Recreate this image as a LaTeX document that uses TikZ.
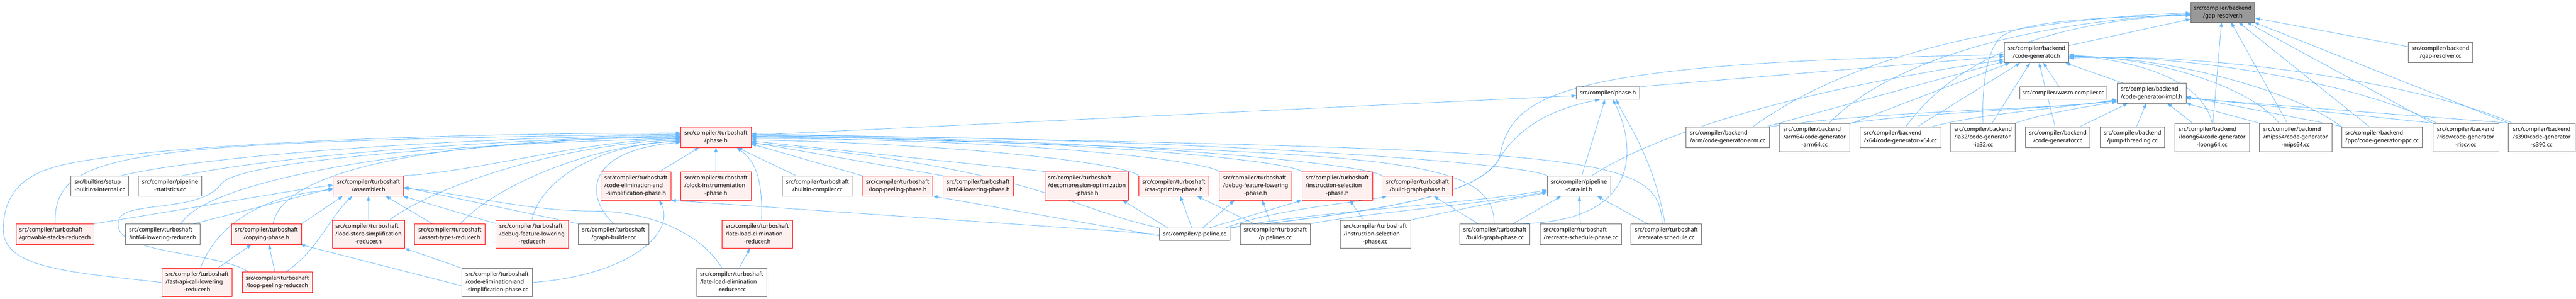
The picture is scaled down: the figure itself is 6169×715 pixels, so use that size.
\documentclass[tikz,border=0pt]{standalone}
\usepackage{fontspec}
\setmainfont{Noto Sans}
\usetikzlibrary{arrows.meta}
\definecolor{edgec}{HTML}{63B8FF}
\definecolor{redb}{HTML}{FF0000}
\definecolor{redf}{HTML}{FFF0F0}
\definecolor{grayb}{HTML}{666666}
\definecolor{mainf}{HTML}{999999}
\pgfdeclarelayer{bg}
\pgfsetlayers{bg,main}
\newcommand{\labtwo}[2]{\begin{tabular}{@{}l@{}}#1\\\multicolumn{1}{@{}c@{}}{#2}\end{tabular}}
\newcommand{\labthree}[3]{\begin{tabular}{@{}l@{}}#1\\#2\\\multicolumn{1}{@{}c@{}}{#3}\end{tabular}}
\newcommand{\mkbox}[7]{\node[#1, minimum width={(#4)-(#3)}, minimum height={(#6)-(#5)}] (#2) at ({((#3)+(#4))/2},{((#5)+(#6))/2}) {#7};}
\tikzset{
  nd/.style={rectangle, line width=1pt, inner sep=0pt, font=\fontsize{13.5}{18.5}\selectfont, text=black},
  wbox/.style={nd, draw=grayb, fill=white},
  rbox/.style={nd, draw=redb, fill=redf},
  mbox/.style={nd, draw=grayb, fill=mainf},
  lnk/.style={draw=edgec, line width=1pt, -{Triangle[length=11pt,width=8pt]}},
}
\begin{document}
\begin{tikzpicture}[x=1pt,y=-1pt]
\useasboundingbox (0,0) rectangle (6169,715);
% ---------------- backend nodes
\mkbox{mbox}{gap}{5246}{5400}{5}{53}{\labtwo{src/compiler/backend}{/gap-resolver.h}}
\mkbox{wbox}{cgh}{4800}{4954}{102}{150}{\labtwo{src/compiler/backend}{/code-generator.h}}
\mkbox{wbox}{grcc}{5767}{5922}{102}{150}{\labtwo{src/compiler/backend}{/gap-resolver.cc}}
\mkbox{wbox}{cphase}{3775}{3926}{208}{238}{src/compiler/phase.h}
\mkbox{wbox}{wasm}{4837}{5045}{208}{238}{src/compiler/wasm-compiler.cc}
\mkbox{wbox}{impl}{5070}{5235}{199}{247}{\labtwo{src/compiler/backend}{/code-generator-impl.h}}
\mkbox{wbox}{arm}{4038}{4237}{304}{353}{\labtwo{src/compiler/backend}{/arm/code-generator-arm.cc}}
\mkbox{wbox}{arm64}{4261}{4430}{295}{363}{\labthree{src/compiler/backend}{/arm64/code-generator}{-arm64.cc}}
\mkbox{wbox}{x64}{4454}{4648}{304}{353}{\labtwo{src/compiler/backend}{/x64/code-generator-x64.cc}}
\mkbox{wbox}{ia32}{4672}{4826}{295}{363}{\labthree{src/compiler/backend}{/ia32/code-generator}{-ia32.cc}}
\mkbox{wbox}{cgcc}{4851}{5005}{304}{353}{\labtwo{src/compiler/backend}{/code-generator.cc}}
\mkbox{wbox}{jump}{5029}{5184}{304}{353}{\labtwo{src/compiler/backend}{/jump-threading.cc}}
\mkbox{wbox}{loong}{5208}{5387}{295}{363}{\labthree{src/compiler/backend}{/loong64/code-generator}{-loong64.cc}}
\mkbox{wbox}{mips}{5411}{5584}{295}{363}{\labthree{src/compiler/backend}{/mips64/code-generator}{-mips64.cc}}
\mkbox{wbox}{ppc}{5608}{5801}{304}{353}{\labtwo{src/compiler/backend}{/ppc/code-generator-ppc.cc}}
\mkbox{wbox}{riscv}{5826}{5984}{295}{363}{\labthree{src/compiler/backend}{/riscv/code-generator}{-riscv.cc}}
\mkbox{wbox}{s390}{6007}{6167}{295}{363}{\labthree{src/compiler/backend}{/s390/code-generator}{-s390.cc}}
% ---------------- turboshaft row 3/4
\mkbox{rbox}{tsphase}{1630}{1799}{304}{353}{\labtwo{src/compiler/turboshaft}{/phase.h}}
\mkbox{wbox}{setup}{170}{308}{421}{469}{\labtwo{src/builtins/setup}{-builtins-internal.cc}}
\mkbox{wbox}{pstat}{331}{483}{421}{469}{\labtwo{src/compiler/pipeline}{-statistics.cc}}
\mkbox{rbox}{asm}{798}{967}{421}{469}{\labtwo{src/compiler/turboshaft}{/assembler.h}}
\mkbox{rbox}{cesph}{1439}{1607}{411}{479}{\labthree{src/compiler/turboshaft}{/code-elimination-and}{-simplification-phase.h}}
\mkbox{rbox}{blkinst}{1630}{1799}{411}{479}{\labthree{src/compiler/turboshaft}{/block-instrumentation}{-phase.h}}
\mkbox{wbox}{bcomp}{1873}{2042}{421}{469}{\labtwo{src/compiler/turboshaft}{/builtin-compiler.cc}}
\mkbox{rbox}{lpph}{2065}{2234}{421}{469}{\labtwo{src/compiler/turboshaft}{/loop-peeling-phase.h}}
\mkbox{rbox}{i64ph}{2258}{2427}{421}{469}{\labtwo{src/compiler/turboshaft}{/int64-lowering-phase.h}}
\mkbox{rbox}{decomp}{2503}{2703}{411}{479}{\labthree{src/compiler/turboshaft}{/decompression-optimization}{-phase.h}}
\mkbox{rbox}{csa}{2727}{2895}{421}{469}{\labtwo{src/compiler/turboshaft}{/csa-optimize-phase.h}}
\mkbox{rbox}{dflph}{2920}{3094}{411}{479}{\labthree{src/compiler/turboshaft}{/debug-feature-lowering}{-phase.h}}
\mkbox{rbox}{isph}{3118}{3287}{411}{479}{\labthree{src/compiler/turboshaft}{/instruction-selection}{-phase.h}}
\mkbox{rbox}{bgph}{3310}{3479}{421}{469}{\labtwo{src/compiler/turboshaft}{/build-graph-phase.h}}
\mkbox{wbox}{pdinl}{3705}{3857}{421}{469}{\labtwo{src/compiler/pipeline}{-data-inl.h}}
% ---------------- row 5
\mkbox{rbox}{grow}{39}{225}{536}{585}{\labtwo{src/compiler/turboshaft}{/growable-stacks-reducer.h}}
\mkbox{wbox}{i64red}{300}{479}{536}{585}{\labtwo{src/compiler/turboshaft}{/int64-lowering-reducer.h}}
\mkbox{rbox}{copy}{554}{722}{536}{585}{\labtwo{src/compiler/turboshaft}{/copying-phase.h}}
\mkbox{rbox}{lss}{796}{969}{527}{594}{\labthree{src/compiler/turboshaft}{/load-store-simplification}{-reducer.h}}
\mkbox{rbox}{atr}{993}{1162}{536}{585}{\labtwo{src/compiler/turboshaft}{/assert-types-reducer.h}}
\mkbox{rbox}{dflr}{1187}{1361}{527}{594}{\labthree{src/compiler/turboshaft}{/debug-feature-lowering}{-reducer.h}}
\mkbox{wbox}{gb}{1385}{1554}{536}{585}{\labtwo{src/compiler/turboshaft}{/graph-builder.cc}}
\mkbox{rbox}{llr}{1729}{1898}{527}{594}{\labthree{src/compiler/turboshaft}{/late-load-elimination}{-reducer.h}}
\mkbox{wbox}{pcc}{2777}{2945}{546}{575}{src/compiler/pipeline.cc}
\mkbox{wbox}{pscc}{2970}{3138}{536}{585}{\labtwo{src/compiler/turboshaft}{/pipelines.cc}}
\mkbox{wbox}{iscc}{3209}{3378}{527}{594}{\labthree{src/compiler/turboshaft}{/instruction-selection}{-phase.cc}}
\mkbox{wbox}{bgcc}{3496}{3664}{536}{585}{\labtwo{src/compiler/turboshaft}{/build-graph-phase.cc}}
\mkbox{wbox}{rspcc}{3688}{3883}{536}{585}{\labtwo{src/compiler/turboshaft}{/recreate-schedule-phase.cc}}
\mkbox{wbox}{rscc}{3906}{4075}{536}{585}{\labtwo{src/compiler/turboshaft}{/recreate-schedule.cc}}
% ---------------- row 6
\mkbox{rbox}{fast}{388}{556}{642}{710}{\labthree{src/compiler/turboshaft}{/fast-api-call-lowering}{-reducer.h}}
\mkbox{rbox}{lpr}{580}{748}{651}{700}{\labtwo{src/compiler/turboshaft}{/loop-peeling-reducer.h}}
\mkbox{wbox}{cescc}{1106}{1275}{642}{710}{\labthree{src/compiler/turboshaft}{/code-elimination-and}{-simplification-phase.cc}}
\mkbox{wbox}{llcc}{1668}{1836}{642}{710}{\labthree{src/compiler/turboshaft}{/late-load-elimination}{-reducer.cc}}

\begin{pgfonlayer}{bg}
\fill[white] (0,0) rectangle (6169,715);
% ---------- backend edges
\draw[lnk] (cgh) -- (gap);
\draw[lnk] (grcc) -- (gap);
\draw[lnk] (impl) -- (cgh);
\draw[lnk] (wasm) -- (cgh);
\draw[lnk] (cphase.north east) -- ([yshift=-9pt]cgh.west);
\draw[lnk] ([xshift=31pt]pdinl.north) .. controls (3950,330) and (4250,225) .. ([yshift=-17pt]cgh.west);
\draw[lnk] (pcc.north east) .. controls (3300,505) and (3540,470) .. (3590,380) .. controls (3620,230) and (3700,150) .. ([yshift=-5pt]cgh.west);
\draw[lnk] ([yshift=5pt]tsphase.east) -- ([yshift=-6pt]cphase.west);
% arch -> gap
\draw[lnk] ([xshift=60pt]arm.north) .. controls (4450,120) and (4850,45) .. ([yshift=-2pt]gap.west);
\draw[lnk] ([xshift=35pt]arm64.north) .. controls (4500,170) and (4780,60) .. ([yshift=-4pt]gap.west);
\draw[lnk] ([xshift=13pt]x64.north) .. controls (4660,170) and (4850,55) .. ([yshift=-6pt]gap.west);
\draw[lnk] (ia32.north) .. controls (4745,200) and (4760,120) .. (4790,90) .. controls (4830,55) and (5000,40) .. ([yshift=-8pt]gap.west);
\draw[lnk] ([xshift=2pt]loong.north) -- ([xshift=-3pt]gap.south);
\draw[lnk] ([xshift=-20pt]mips.north) -- ([xshift=20pt]gap.south);
\draw[lnk] ([xshift=-30pt]ppc.north) -- ([xshift=38pt]gap.south);
\draw[lnk] (riscv.north west) -- ([xshift=58pt]gap.south);
\draw[lnk] (s390.north west) -- ([xshift=-2pt]gap.south east);
% arch -> code-generator.h
\draw[lnk] (arm) -- (cgh);
\draw[lnk] (arm64) -- (cgh);
\draw[lnk] (x64) -- (cgh);
\draw[lnk] (ia32) -- (cgh);
\draw[lnk] (cgcc) -- (cgh);
\draw[lnk] (loong.north) .. controls (5275,200) and (5150,150) .. ([yshift=-5pt]cgh.east);
\draw[lnk] ([xshift=-40pt]mips.north) .. controls (5400,220) and (5200,140) .. ([yshift=-7pt]cgh.east);
\draw[lnk] (ppc.north west) .. controls (5500,220) and (5200,135) .. ([yshift=-9pt]cgh.east);
\draw[lnk] ([xshift=10pt]riscv.north west) .. controls (5650,200) and (5250,130) .. ([yshift=-11pt]cgh.east);
\draw[lnk] ([xshift=10pt]s390.north west) .. controls (5800,200) and (5300,125) .. ([yshift=-13pt]cgh.east);
% arch -> code-generator-impl.h
\draw[lnk] (arm.north east) .. controls (4500,265) and (4900,262) .. ([yshift=6pt]impl.south west);
\draw[lnk] (arm64.north east) .. controls (4600,270) and (4950,258) .. ([yshift=8pt]impl.south west);
\draw[lnk] ([xshift=-24pt]x64.north east) .. controls (4750,270) and (4980,255) .. ([yshift=10pt]impl.south west);
\draw[lnk] (ia32.north east) .. controls (4900,270) and (5000,255) .. ([yshift=4pt]impl.south west);
\draw[lnk] ([xshift=52pt]cgcc.north) -- ([xshift=-57pt]impl.south);
\draw[lnk] ([xshift=10pt]jump.north) -- ([xshift=-13pt]impl.south);
\draw[lnk] ([xshift=-47pt]loong.north) -- ([xshift=38pt]impl.south);
\draw[lnk] (mips.north west) -- (impl.south east);
\draw[lnk] ([xshift=5pt]ppc.north west) -- ([yshift=-8pt]impl.east);
\draw[lnk] (riscv.north west) -- ([yshift=-10pt]impl.east);
\draw[lnk] (s390.north west) -- ([yshift=-12pt]impl.east);
% ---------- turboshaft phase.h, left side
\draw[lnk] ([xshift=51pt]setup.north) .. controls (500,370) and (1100,330) .. ([yshift=6pt]tsphase.west);
\draw[lnk] ([xshift=30pt]pstat.north) .. controls (650,375) and (1150,335) .. ([yshift=4pt]tsphase.west);
\draw[lnk] (grow.north) .. controls (128,360) and (300,340) .. ([yshift=8pt]tsphase.west);
\draw[lnk] (fast.west) .. controls (150,650) and (0,640) .. (8,540) .. controls (12,460) and (60,420) .. (130,400) .. controls (300,350) and (1000,318) .. ([yshift=10pt]tsphase.west);
\draw[lnk] ([xshift=44pt]i64red.north) .. controls (500,420) and (1100,335) .. ([yshift=2pt]tsphase.west);
\draw[lnk] ([xshift=16pt]copy.north) .. controls (680,380) and (1200,330) .. (tsphase.west);
\draw[lnk] ([xshift=15pt]lpr.north west) .. controls (520,600) and (255,610) .. (285,525) .. controls (300,480) and (480,510) .. (530,440) .. controls (570,385) and (1100,345) .. ([yshift=-2pt]tsphase.west);
\draw[lnk] (asm.north east) .. controls (1150,410) and (1400,335) .. ([yshift=-4pt]tsphase.west);
\draw[lnk] ([xshift=50pt]lss.north) .. controls (1050,440) and (1350,345) .. ([yshift=-6pt]tsphase.west);
\draw[lnk] ([xshift=25pt]atr.north) .. controls (1180,450) and (1400,350) .. ([yshift=-8pt]tsphase.west);
\draw[lnk] (dflr.north) .. controls (1290,440) and (1420,345) .. ([yshift=-10pt]tsphase.west);
\draw[lnk] (gb.north) .. controls (1400,470) and (1400,360) .. ([yshift=-12pt]tsphase.west);
% bottom and right side
\draw[lnk] (cesph) -- (tsphase);
\draw[lnk] (blkinst) -- (tsphase);
\draw[lnk] (bcomp) -- (tsphase);
\draw[lnk] ([xshift=10pt]llr.north) .. controls (1826,440) and (1815,390) .. ([xshift=50pt]tsphase.south);
\draw[lnk] (lpph.north west) -- ([yshift=-16pt]tsphase.east);
\draw[lnk] (i64ph.north west) -- ([yshift=-12pt]tsphase.east);
\draw[lnk] (decomp.north west) -- ([yshift=-9pt]tsphase.east);
\draw[lnk] (csa.north west) .. controls +(-30,-30) and +(500,10) .. ([yshift=-6pt]tsphase.east);
\draw[lnk] (dflph.north west) .. controls +(-40,-30) and +(600,0) .. ([yshift=-3pt]tsphase.east);
\draw[lnk] (isph.north west) .. controls +(-40,-30) and +(700,0) .. (tsphase.east);
\draw[lnk] (bgph.north west) .. controls +(-40,-30) and +(800,0) .. ([yshift=2pt]tsphase.east);
\draw[lnk] (pdinl.north west) .. controls +(-60,-35) and +(900,0) .. ([yshift=4pt]tsphase.east);
\draw[lnk] ([xshift=-2pt]bgcc.north) .. controls (3580,360) and (3250,370) .. ([yshift=6pt]tsphase.east);
\draw[lnk] ([xshift=-10pt]rscc.north) .. controls (3975,360) and (3800,360) .. ([yshift=8pt]tsphase.east);
\draw[lnk] (pcc.north west) .. controls (2560,500) and (2470,400) .. ([yshift=-14pt]tsphase.east);
% ---------- assembler.h
\draw[lnk] (grow.north east) .. controls (450,500) and (700,455) .. ([yshift=2pt]asm.west);
\draw[lnk] ([xshift=75pt]i64red.north) -- ([yshift=-5pt]asm.west);
\draw[lnk] (copy.north east) -- ([xshift=-62pt]asm.south);
\draw[lnk] ([xshift=8pt]fast.north) .. controls (510,560) and (600,470) .. ([yshift=-9pt]asm.west);
\draw[lnk] ([xshift=21pt]lpr.north) .. controls (760,600) and (790,520) .. ([xshift=-39pt]asm.south);
\draw[lnk] (lss) -- (asm);
\draw[lnk] (atr) -- (asm);
\draw[lnk] (dflr) -- (asm);
\draw[lnk] (gb.north west) -- ([yshift=-3pt]asm.east);
\draw[lnk] ([xshift=-23pt]llcc.north) .. controls (1680,560) and (1560,505) .. (1420,505) .. controls (1250,505) and (1100,460) .. ([yshift=-6pt]asm.east);
% ---------- copying-phase.h, load-store, code-elim
\draw[lnk] (fast) -- (copy);
\draw[lnk] (lpr) -- (copy);
\draw[lnk] ([yshift=-8pt]cescc.west) -- ([xshift=-3pt]copy.south east);
\draw[lnk] (cescc.north west) -- (lss.south east);
\draw[lnk] (cescc.east) .. controls (1500,660) and (1620,560) .. ([xshift=56pt]cesph.south);
\draw[lnk] (llcc) -- (llr);
\draw[lnk] (pcc.west) -- (cesph.south east);
% ---------- pipeline.cc etc. -> phase headers
\draw[lnk] ([yshift=-4pt]pcc.west) -- (lpph.south east);
\draw[lnk] ([xshift=20pt]pcc.north west) -- ([xshift=-15pt]decomp.south east);
\draw[lnk] ([xshift=-7pt]pcc.north) -- ([xshift=16pt]csa.south);
\draw[lnk] ([xshift=19pt]pcc.north) -- ([xshift=-51pt]dflph.south);
\draw[lnk] ([xshift=35pt]pcc.north) -- (isph.south west);
\draw[lnk] ([xshift=-10pt]pcc.north east) .. controls (3050,500) and (3250,485) .. ([xshift=12pt]bgph.south west);
\draw[lnk] ([xshift=-51pt]pscc.north) -- ([xshift=56pt]csa.south);
\draw[lnk] ([xshift=-11pt]pscc.north) -- ([xshift=16pt]dflph.south);
\draw[lnk] ([xshift=-28pt]iscc.north) -- ([xshift=30pt]isph.south);
\draw[lnk] (bgcc) -- (bgph);
% ---------- pipeline-data-inl.h
\draw[lnk] (pcc.north east) .. controls (3150,505) and (3500,490) .. ([yshift=-10pt]pdinl.west);
\draw[lnk] (pscc.north east) .. controls (3300,505) and (3550,490) .. ([yshift=-13pt]pdinl.west);
\draw[lnk] (iscc.north east) .. controls (3450,510) and (3600,480) .. ([yshift=-16pt]pdinl.west);
\draw[lnk] (bgcc) -- (pdinl);
\draw[lnk] (rspcc) -- (pdinl);
\draw[lnk] (rscc) -- (pdinl);
% ---------- src/compiler/phase.h
\draw[lnk] ([xshift=7pt]pdinl.north) -- ([xshift=-7pt]cphase.south);
\draw[lnk] ([xshift=60pt]bgcc.north) .. controls (3950,530) and (3910,330) .. ([xshift=12pt]cphase.south);
\draw[lnk] ([xshift=-3pt]rscc.north) .. controls (3960,380) and (3900,300) .. ([xshift=20pt]cphase.south);
\draw[lnk] (pcc.north east) .. controls (3300,505) and (3540,470) .. (3590,380) .. controls (3640,300) and (3720,260) .. ([xshift=-20pt]cphase.south);
\end{pgfonlayer}
\end{tikzpicture}
\end{document}
